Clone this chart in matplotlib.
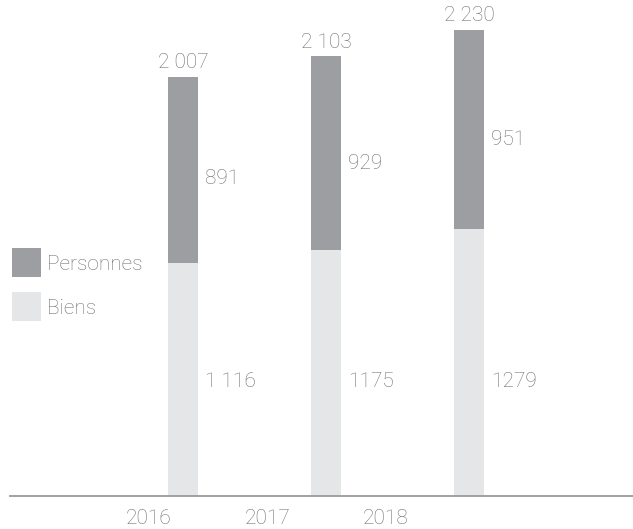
import numpy as np
import matplotlib.pyplot as plt
from matplotlib.patches import Rectangle

plt.rcParams["font.family"] = ["Roboto", "DejaVu Sans"]

years = ["2016", "2017", "2018"]
biens = [1116, 1175, 1279]
personnes = [891, 929, 951]
totals = [2007, 2103, 2230]
biens_labels = ["1 116", "1175", "1279"]
personnes_labels = ["891", "929", "951"]
total_labels = ["2 007", "2 103", "2 230"]

C_PERS = "#9d9ea2"
C_BIENS = "#e5e6e8"
C_TEXT = "#6f7072"
W, H = 633, 529

fig = plt.figure(figsize=(W / 100, H / 100), dpi=100)
ax = fig.add_axes([10 / W, 33 / H, 623 / W, 496 / H])

x = np.arange(len(years))
bw = 0.21
ax.bar(x, biens, width=bw, color=C_BIENS, linewidth=0)
ax.bar(x, personnes, bottom=biens, width=bw, color=C_PERS, linewidth=0)

ax.set_xlim(-1.21, 3.147)
ax.set_ylim(0, 2373)

fs = 15
for i in x:
    ax.text(i, totals[i] + 22, total_labels[i], ha="center", va="bottom",
            fontsize=fs, color=C_TEXT, fontweight="light")
    ax.text(i + bw / 2 + 0.05, biens[i] + personnes[i] * 0.45, personnes_labels[i],
            ha="left", va="center", fontsize=fs, color=C_TEXT, fontweight="light")
    # Biens values share one baseline across bars
    ax.text(i + bw / 2 + 0.05, 550, biens_labels[i],
            ha="left", va="center", fontsize=fs, color=C_TEXT, fontweight="light")

# year labels sit left of their bars
ax.set_xticks(x * 0.83 - 0.24)
ax.set_xticklabels(years, fontsize=fs, color=C_TEXT, fontweight="light")
ax.tick_params(axis="x", length=0, pad=9)
ax.set_yticks([])
for s in ["top", "right", "left"]:
    ax.spines[s].set_visible(False)
ax.spines["bottom"].set_color("#9a9a9a")
ax.spines["bottom"].set_linewidth(1.3)

# legend
for j, (lab, col) in enumerate([("Personnes", C_PERS), ("Biens", C_BIENS)]):
    top = 248 + j * 44
    fig.add_artist(Rectangle((12 / W, 1 - (top + 29) / H), 29 / W, 29 / H,
                             transform=fig.transFigure, color=col, lw=0))
    fig.text(47 / W, 1 - (top + 17) / H, lab, ha="left", va="center",
             fontsize=fs, color=C_TEXT, fontweight="light")

fig.savefig("out.png", dpi=100)
